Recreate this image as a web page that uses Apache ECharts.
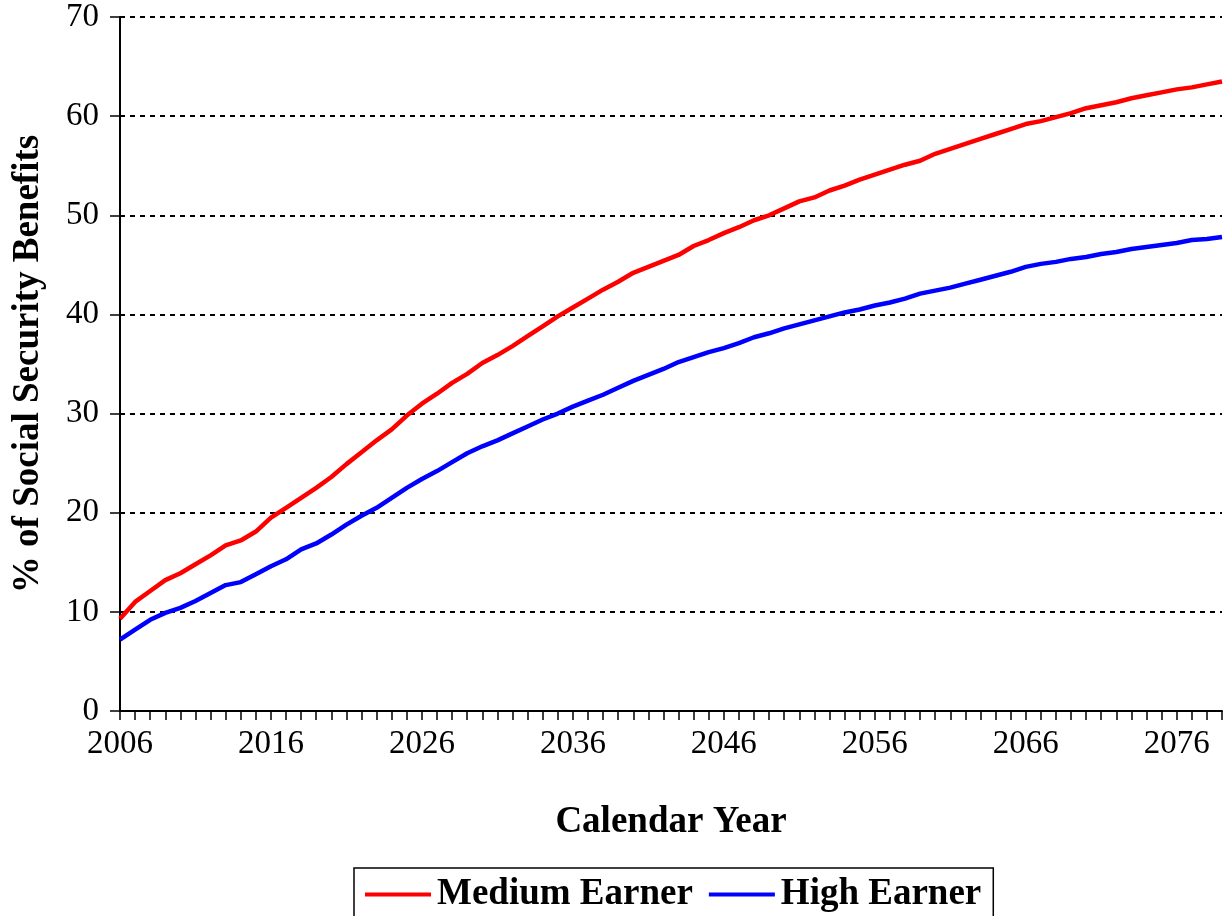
<!DOCTYPE html>
<html>
<head>
<meta charset="utf-8">
<script src="https://cdn.jsdelivr.net/npm/echarts@6/dist/echarts.min.js"></script>
<style>
  html, body { margin: 0; padding: 0; background: #fff; }
  #main { width: 1223px; height: 916px; }
</style>
</head>
<body>
<div id="main"></div>
<script>
// years 2006..2079
const years = [];
for (let y = 2006; y <= 2079; y++) years.push(String(y));

// % of Social Security benefits
const mediumEarner = [
  9.3, 11.0, 12.1, 13.2, 13.9, 14.8, 15.7, 16.7, 17.2, 18.1,
  19.5, 20.5, 21.5, 22.5, 23.6, 24.9, 26.1, 27.3, 28.4, 29.8,
  31.0, 32.0, 33.1, 34.0, 35.1, 35.9, 36.8, 37.8, 38.8, 39.8,
  40.7, 41.6, 42.5, 43.3, 44.2, 44.8, 45.4, 46.0, 46.9, 47.5,
  48.2, 48.8, 49.5, 50.0, 50.7, 51.4, 51.8, 52.5, 53.0, 53.6,
  54.1, 54.6, 55.1, 55.5, 56.2, 56.7, 57.2, 57.7, 58.2, 58.7,
  59.2, 59.5, 59.9, 60.3, 60.8, 61.1, 61.4, 61.8, 62.1, 62.4,
  62.7, 62.9, 63.2, 63.5
];
const highEarner = [
  7.2, 8.2, 9.2, 9.9, 10.4, 11.1, 11.9, 12.7, 13.0, 13.8,
  14.6, 15.3, 16.3, 16.9, 17.8, 18.8, 19.7, 20.5, 21.5, 22.5,
  23.4, 24.2, 25.1, 26.0, 26.7, 27.3, 28.0, 28.7, 29.4, 30.0,
  30.7, 31.3, 31.9, 32.6, 33.3, 33.9, 34.5, 35.2, 35.7, 36.2,
  36.6, 37.1, 37.7, 38.1, 38.6, 39.0, 39.4, 39.8, 40.2, 40.5,
  40.9, 41.2, 41.6, 42.1, 42.4, 42.7, 43.1, 43.5, 43.9, 44.3,
  44.8, 45.1, 45.3, 45.6, 45.8, 46.1, 46.3, 46.6, 46.8, 47.0,
  47.2, 47.5, 47.6, 47.8
];

const font = "'Liberation Serif', 'Times New Roman', serif";

const chart = echarts.init(document.getElementById("main"));
chart.setOption({
  animation: false,
  textStyle: { fontFamily: font, color: "#000" },
  grid: { left: 120, right: 1, top: 17, bottom: 205, containLabel: false, outerBoundsMode: "none" },
  legend: {
    top: 868,
    left: 354,
    padding: [8, 12, 20, 11],
    borderColor: "#000",
    borderWidth: 1.5,
    itemWidth: 66,
    itemHeight: 4,
    itemGap: 16,
    icon: "rect",
    textStyle: { fontFamily: font, fontSize: 37, fontWeight: "bold", color: "#000", padding: [0, 0, 0, 1] },
    data: ["Medium Earner", "High Earner"]
  },
  xAxis: {
    type: "category",
    data: years,
    boundaryGap: false,
    name: "Calendar Year",
    nameLocation: "middle",
    nameGap: 93,
    nameTextStyle: { fontFamily: font, fontSize: 37, fontWeight: "bold", color: "#000" },
    axisLine: { lineStyle: { color: "#000", width: 2 } },
    axisTick: { interval: 0, length: 9, lineStyle: { color: "#000", width: 1.5 } },
    axisLabel: { interval: 9, margin: 17, fontSize: 33, color: "#000", fontFamily: font },
    splitLine: { show: false }
  },
  yAxis: {
    type: "value",
    min: 0,
    max: 70,
    interval: 10,
    name: "% of Social Security Benefits",
    nameLocation: "middle",
    nameGap: 73,
    nameTextStyle: { fontFamily: font, fontSize: 37, fontWeight: "bold", color: "#000" },
    axisLine: { show: true, lineStyle: { color: "#000", width: 2 } },
    axisTick: { show: true, length: 10, lineStyle: { color: "#000", width: 1.5 } },
    axisLabel: { margin: 21, fontSize: 33, color: "#000", fontFamily: font },
    splitLine: { lineStyle: { color: "#000", width: 2, type: [5, 5] } }
  },
  series: [
    {
      name: "Medium Earner",
      type: "line",
      data: mediumEarner,
      symbol: "none",
      color: "#ff0000",
      lineStyle: { width: 4.5, color: "#ff0000" }
    },
    {
      name: "High Earner",
      type: "line",
      data: highEarner,
      symbol: "none",
      color: "#0000ff",
      lineStyle: { width: 4.5, color: "#0000ff" }
    }
  ]
});
window.addEventListener("resize", () => chart.resize());
</script>
</body>
</html>
